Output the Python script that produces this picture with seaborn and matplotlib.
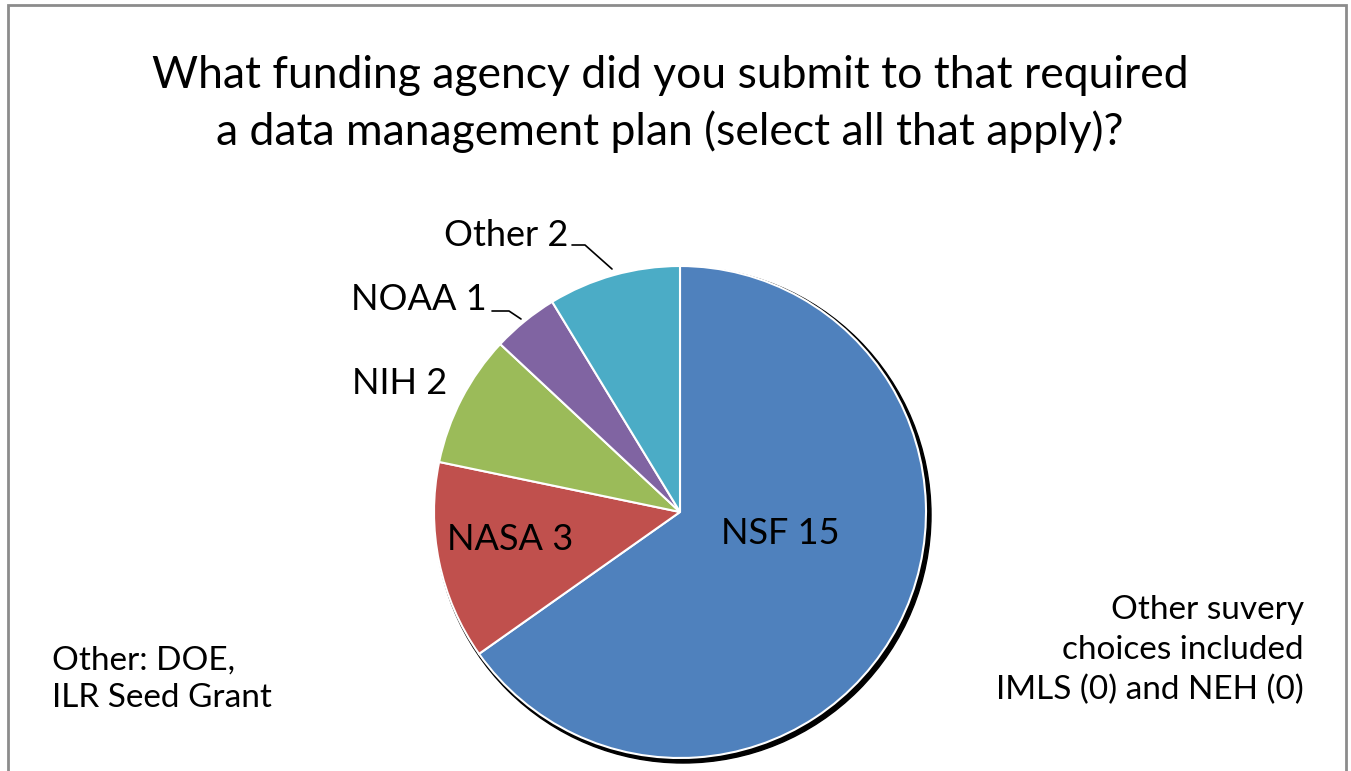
import matplotlib
matplotlib.use("Agg")
import matplotlib.pyplot as plt
import seaborn as sns
from matplotlib.patches import Rectangle, Circle

categories = ["NSF", "NASA", "NIH", "NOAA", "Other"]
values = [15, 3, 2, 1, 2]
colors = ["#4F81BD", "#C0504D", "#9BBB59", "#8064A2", "#4BACC6"]
title = "What funding agency did you submit to that required\na data management plan (select all that apply)?"
note_left = "Other: DOE,\nILR Seed Grant"
note_right = "Other suvery\nchoices included\nIMLS (0) and NEH (0)"

sns.set_theme(style="white")
plt.rcParams['font.family'] = ['Lato', 'DejaVu Sans']
plt.rcParams['text.color'] = 'black'

W, H = 1351, 771
fig = plt.figure(figsize=(W / 100, H / 100), dpi=100)
ax = fig.add_axes([0, 0, 1, 1])

cx, cy, r = 680, H - 512, 246
# shadow
ax.add_patch(Circle((cx + 3, cy - 3), r + 2, color="black", zorder=1))

pal = sns.color_palette(colors)
wedges, _ = ax.pie(values, colors=pal, startangle=90, counterclock=False,
                   center=(cx, cy), radius=r, frame=True,
                   wedgeprops=dict(edgecolor="white", linewidth=1.5, zorder=2))
ax.set_xlim(0, W)
ax.set_ylim(0, H)
ax.set_aspect('equal')
ax.axis('off')

# border
ax.add_patch(Rectangle((8, -20), 1338, H - 5 + 20, fill=False, edgecolor="#8c8c8c", lw=2))

fs = 26
ax.text(780, H - 533, f"{categories[0]} {values[0]}", fontsize=fs, ha='center', va='center', zorder=5)
ax.text(510, H - 539, f"{categories[1]} {values[1]}", fontsize=fs, ha='center', va='center', zorder=5)
ax.text(447, H - 384, f"{categories[2]} {values[2]}", fontsize=fs, ha='right', va='center', zorder=5)
ax.text(487, H - 300, f"{categories[3]} {values[3]}", fontsize=fs, ha='right', va='center', zorder=5)
ax.text(568, H - 235, f"{categories[4]} {values[4]}", fontsize=fs, ha='right', va='center', zorder=5)

# leader lines
ax.plot([572, 585, 612], [H - 245, H - 245, H - 269], color="black", lw=1.2, zorder=5)
ax.plot([492, 509, 521], [H - 311, H - 311, H - 319], color="black", lw=1.2, zorder=5)

ax.text(670, H - 104, title, fontsize=32, ha='center', va='center', linespacing=1.4)
ax.text(52, H - 679, note_left, fontsize=24, ha='left', va='center', linespacing=1.3)
ax.text(1304, H - 650, note_right, fontsize=24, ha='right', va='center', linespacing=1.42,
        multialignment='right')

fig.savefig("out.png", dpi=100)
